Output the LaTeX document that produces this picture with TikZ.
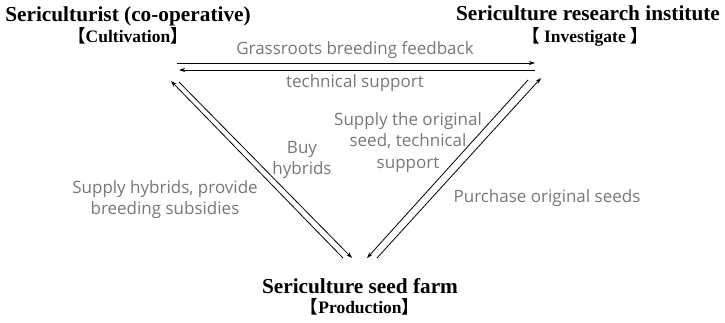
\documentclass[tikz,border=0pt]{standalone}
\usepackage{fontspec}
\setmainfont{Liberation Serif}
\newfontfamily\labelfont{Open Sans}
\newfontfamily\cjk{Noto Sans CJK SC}
\usetikzlibrary{arrows.meta}
\definecolor{lblgray}{HTML}{777777}
\begin{document}
\begin{tikzpicture}[x=1pt,y=-1pt,
  head/.style={font=\fontsize{21.3}{24}\selectfont\bfseries, inner sep=0pt, anchor=base},
  sub/.style={font=\fontsize{17.5}{20}\selectfont\bfseries, inner sep=0pt, anchor=base},
  lbl/.style={font=\labelfont\fontsize{17}{21.3}\selectfont, text=lblgray, inner sep=0pt, align=center},
  flow/.style={draw=black, line width=0.8pt, -{Stealth[length=6pt,width=4pt]}}]
\useasboundingbox (0,0) rectangle (725,323);
% headings
\node[head] (farmer) at (128,22) {Sericulturist (co-operative)};
\node[sub] (farmerrole) at (128,43) {{\cjk 【}Cultivation{\cjk 】}};
\node[head] (inst) at (588,21) {Sericulture research institute};
\node[sub] (instrole) at (585,43) {{\cjk 【} Investigate {\cjk 】}};
\node[head] (farm) at (360,293) {Sericulture seed farm};
\node[sub] (farmrole) at (360,313) {{\cjk 【}Production{\cjk 】}};
% arrow ends
\coordinate (t1) at (177,63);
\coordinate (t2) at (535,63);
\coordinate (b1) at (535,70);
\coordinate (b2) at (179,70);
\coordinate (l1) at (343,258);
\coordinate (l2) at (171,81);
\coordinate (l3) at (179,82);
\coordinate (l4) at (352,258);
\coordinate (r1) at (528,80);
\coordinate (r2) at (367,258);
\coordinate (r3) at (377,258);
\coordinate (r4) at (541,78);
\draw[flow] (t1) -- (t2);
\draw[flow] (b1) -- (b2);
\draw[flow] (l1) -- (l2);
\draw[flow] (l3) -- (l4);
\draw[flow] (r1) -- (r2);
\draw[flow] (r3) -- (r4);
% labels
\node[lbl, anchor=base] (lgf) at (355,55) {Grassroots breeding feedback};
\node[lbl, anchor=base] (lts) at (355,88) {technical support};
\node[lbl] (lbh) at (302,160) {Buy\\hybrids};
\node[lbl] (lsh) at (165,199.5) {Supply hybrids, provide\\breeding subsidies};
\node[lbl] (lso) at (408,142.5) {Supply the original\\seed, technical\\support};
\node[lbl, anchor=base] (lpo) at (547,202) {Purchase original seeds};
\end{tikzpicture}
\end{document}
